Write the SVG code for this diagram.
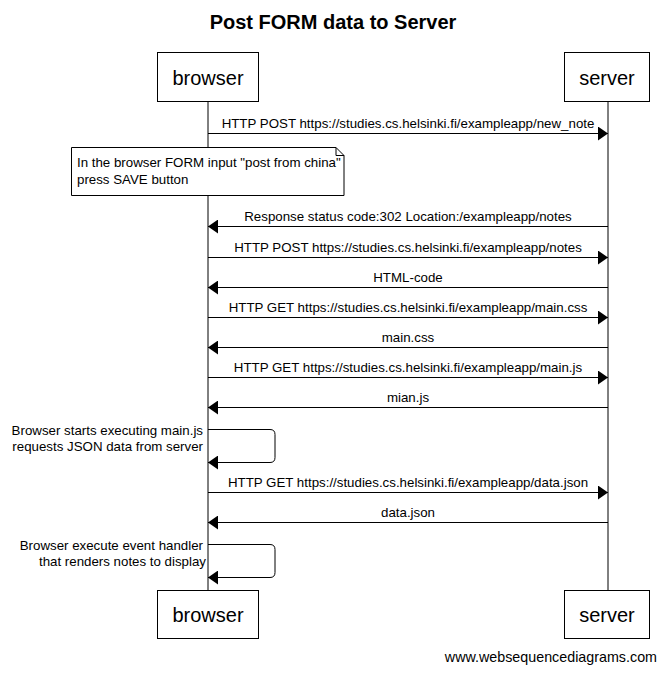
<svg xmlns="http://www.w3.org/2000/svg" width="665" height="673" viewBox="0 0 665 673">
<style>
  text { font-family: "Liberation Sans", Arial, sans-serif; fill: #000; }
  .title { font-size: 20px; font-weight: bold; text-anchor: middle; }
  .actor { font-size: 20px; text-anchor: middle; }
  .box { fill: #fff; stroke: #000; stroke-width: 1; }
  .life { stroke: #000; stroke-width: 1; fill: none; }
  .msg { stroke: #000; stroke-width: 1; fill: none; marker-end: url(#arrow); }
  .lbl { font-size: 13.3px; text-anchor: middle; }
  .self { font-size: 13.3px; text-anchor: end; }
  .note { font-size: 13.3px; }
  .wsd { font-size: 14.3px; text-anchor: end; }
</style>
<defs>
  <marker id="arrow" markerUnits="userSpaceOnUse" markerWidth="10" markerHeight="14" refX="10" refY="7" orient="auto">
    <path d="M0,0 L10,7 L0,14 Z" fill="#000"/>
  </marker>
</defs>
<rect width="665" height="673" fill="#fff"/>
<text class="title" x="333" y="29">Post FORM data to Server</text>

<g id="lifelines">
  <line class="life" x1="208" y1="102" x2="208" y2="591"/>
  <line class="life" x1="608" y1="102" x2="608" y2="591"/>
</g>

<g id="browser">
  <rect class="box" x="157.5" y="52.5" width="101" height="49"/>
  <text class="actor" x="208" y="85">browser</text>
</g>
<g id="server">
  <rect class="box" x="564.5" y="52.5" width="85" height="49"/>
  <text class="actor" x="607" y="85">server</text>
</g>
<g id="browser-bottom">
  <rect class="box" x="157.5" y="590.5" width="101" height="48"/>
  <text class="actor" x="208" y="622">browser</text>
</g>
<g id="server-bottom">
  <rect class="box" x="564.5" y="590.5" width="85" height="48"/>
  <text class="actor" x="607" y="622">server</text>
</g>

<g id="connectors">
  <line class="msg" x1="208" y1="133.5" x2="608" y2="133.5"/>
  <text class="lbl" x="408" y="128">HTTP POST https://studies.cs.helsinki.fi/exampleapp/new_note</text>

  <line class="msg" x1="608" y1="226.5" x2="208" y2="226.5"/>
  <text class="lbl" x="408" y="221">Response status code:302 Location:/exampleapp/notes</text>

  <line class="msg" x1="208" y1="257.5" x2="608" y2="257.5"/>
  <text class="lbl" x="408" y="252">HTTP POST https://studies.cs.helsinki.fi/exampleapp/notes</text>

  <line class="msg" x1="608" y1="287.5" x2="208" y2="287.5"/>
  <text class="lbl" x="408" y="282">HTML-code</text>

  <line class="msg" x1="208" y1="317.5" x2="608" y2="317.5"/>
  <text class="lbl" x="408" y="312">HTTP GET https://studies.cs.helsinki.fi/exampleapp/main.css</text>

  <line class="msg" x1="608" y1="347.5" x2="208" y2="347.5"/>
  <text class="lbl" x="408" y="342">main.css</text>

  <line class="msg" x1="208" y1="377.5" x2="608" y2="377.5"/>
  <text class="lbl" x="408" y="372">HTTP GET https://studies.cs.helsinki.fi/exampleapp/main.js</text>

  <line class="msg" x1="608" y1="407.5" x2="208" y2="407.5"/>
  <text class="lbl" x="408" y="402">mian.js</text>

  <path class="msg" d="M208,429.5 H270 Q275,429.5 275,434.5 V457.5 Q275,462.5 270,462.5 H208"/>
  <text class="self" x="203" y="435">Browser starts executing main.js</text>
  <text class="self" x="203" y="451">requests JSON data from server</text>

  <line class="msg" x1="208" y1="492.5" x2="608" y2="492.5"/>
  <text class="lbl" x="408" y="487">HTTP GET https://studies.cs.helsinki.fi/exampleapp/data.json</text>

  <line class="msg" x1="608" y1="522.5" x2="208" y2="522.5"/>
  <text class="lbl" x="408" y="517">data.json</text>

  <path class="msg" d="M208,544.5 H270 Q275,544.5 275,549.5 V572.5 Q275,577.5 270,577.5 H208"/>
  <text class="self" x="203" y="550">Browser execute event handler</text>
  <text class="self" x="206" y="566">that renders notes to display</text>
</g>

<g id="note">
  <path class="box" d="M71.5,147.5 H336 L344,155.5 V195.5 H71.5 Z"/>
  <path class="life" d="M336,147.5 V155.5 H344"/>
  <text class="note" x="77" y="167">In the browser FORM input "post from china"</text>
  <text class="note" x="77" y="184">press SAVE button</text>
</g>

<text class="wsd" x="657" y="662">www.websequencediagrams.com</text>
</svg>
